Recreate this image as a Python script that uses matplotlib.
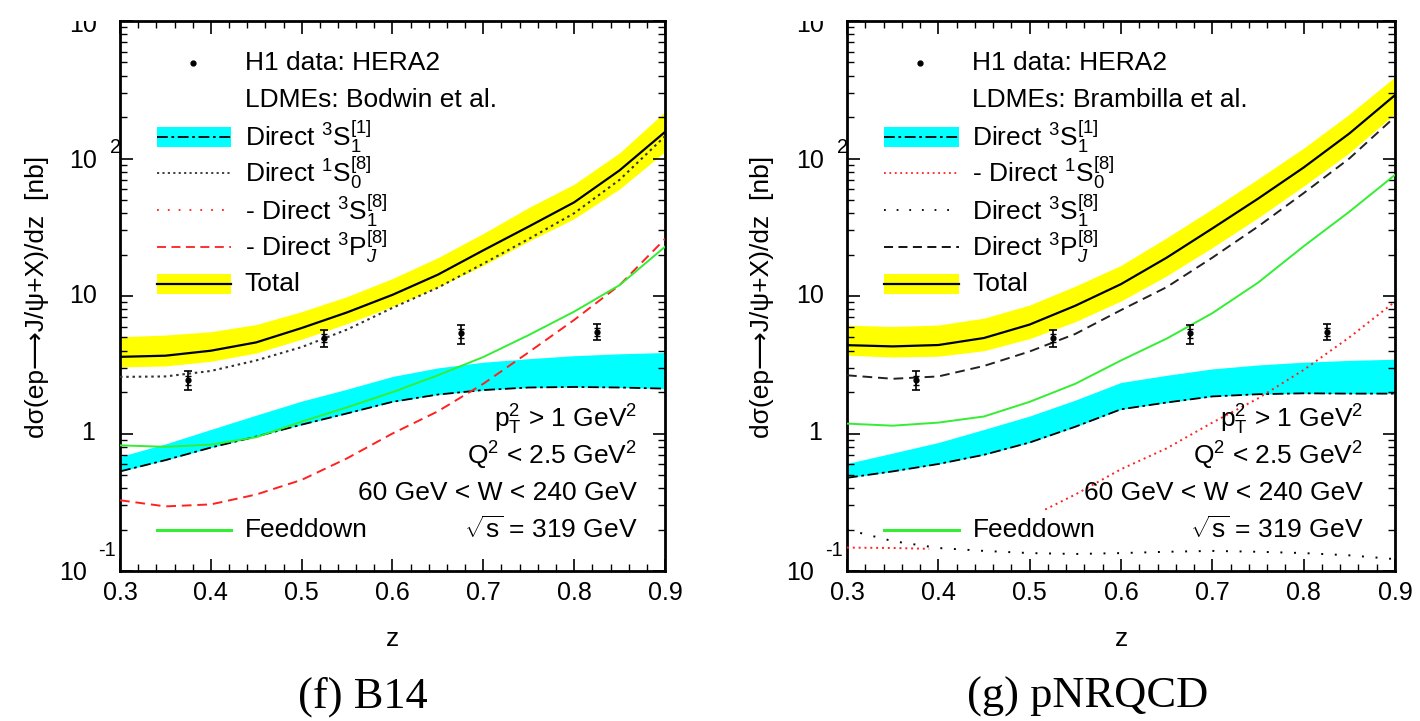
import numpy as np
import matplotlib
matplotlib.use("Agg")
import matplotlib.pyplot as plt
from matplotlib.patches import Rectangle
from matplotlib.transforms import Bbox, TransformedBbox
from matplotlib.ticker import LogLocator, MultipleLocator, NullFormatter

plt.rcParams['font.family'] = ['Liberation Sans', 'DejaVu Sans']
plt.rcParams['mathtext.fontset'] = 'custom'
plt.rcParams['mathtext.rm'] = 'Liberation Sans'
plt.rcParams['mathtext.it'] = 'Liberation Sans:italic'
plt.rcParams['mathtext.bf'] = 'Liberation Sans:bold'

# ---------------- data ----------------
z = [0.30, 0.35, 0.40, 0.45, 0.50, 0.55, 0.60, 0.65, 0.70, 0.75, 0.80, 0.85, 0.90]

# H1 data (same in both panels)
data_z = [0.375, 0.525, 0.675, 0.825]
data_y = [2.44, 4.97, 5.34, 5.50]
data_up = [2.83, 5.66, 6.13, 6.30]
data_dn = [2.06, 4.27, 4.51, 4.77]
stat_up = [2.62, 5.30, 5.72, 5.88]
stat_dn = [2.26, 4.64, 4.96, 5.12]

# (f) B14 -- LDMEs: Bodwin et al.
b14_total = [3.61, 3.68, 4.0, 4.6, 5.85, 7.6, 10.2, 14.3, 21.5, 32, 48, 82, 156]
b14_total_up = [5.05, 5.2, 5.5, 6.2, 7.7, 9.9, 13.4, 19, 28.5, 44, 65, 110, 219]
b14_total_dn = [3.05, 3.1, 3.35, 3.85, 4.85, 6.3, 8.4, 11.6, 16.7, 25, 36.5, 60, 112]
b14_cs = [0.53, 0.64, 0.79, 0.95, 1.16, 1.4, 1.7, 1.92, 2.07, 2.16, 2.18, 2.16, 2.12]
b14_cs_up = [0.68, 0.84, 1.07, 1.36, 1.72, 2.1, 2.6, 3.0, 3.3, 3.5, 3.68, 3.8, 3.88]
b14_1s0 = [2.58, 2.6, 2.85, 3.4, 4.25, 5.7, 8.2, 11.5, 17.2, 26, 40, 70, 145]
b14_3pj = [0.327, 0.295, 0.305, 0.36, 0.46, 0.66, 1.0, 1.45, 2.3, 3.9, 6.7, 12, 26]
b14_feed = [0.82, 0.80, 0.83, 0.94, 1.22, 1.55, 2.0, 2.65, 3.6, 5.2, 7.7, 12.0, 22.8]

# (g) pNRQCD -- LDMEs: Brambilla et al.
pn_total = [4.39, 4.3, 4.4, 4.95, 6.2, 8.5, 12.2, 19, 31, 51, 86, 152, 289]
pn_total_up = [6.14, 6.0, 6.15, 6.9, 8.6, 11.8, 16.7, 26.5, 43, 71, 119, 210, 393]
pn_total_dn = [3.71, 3.6, 3.65, 4.0, 4.9, 6.5, 9.2, 14, 22.5, 37, 63, 110, 212]
pn_cs = [0.476, 0.53, 0.6, 0.7, 0.86, 1.12, 1.5, 1.68, 1.86, 1.93, 1.96, 1.95, 1.95]
pn_cs_up = [0.605, 0.72, 0.86, 1.07, 1.34, 1.75, 2.35, 2.65, 2.95, 3.15, 3.3, 3.4, 3.47]
pn_3pj = [2.65, 2.5, 2.6, 3.1, 3.95, 5.3, 7.9, 11.6, 19, 32, 56, 100, 201]
pn_3s1 = [0.2, 0.165, 0.147, 0.14, 0.135, 0.133, 0.135, 0.138, 0.14, 0.138, 0.135, 0.13, 0.122]
pn_feed = [1.18, 1.14, 1.2, 1.33, 1.7, 2.3, 3.4, 4.9, 7.5, 12.5, 23, 41, 76]
pn_1s0_lo_z = [0.30, 0.35, 0.39]
pn_1s0_lo = [0.148, 0.147, 0.145]
pn_1s0_hi_z = [0.517, 0.55, 0.60, 0.65, 0.70, 0.75, 0.80, 0.85, 0.90]
pn_1s0_hi = [0.28, 0.36, 0.55, 0.78, 1.2, 1.8, 2.9, 5.0, 9.1]

x_ticks = [0.3, 0.4, 0.5, 0.6, 0.7, 0.8, 0.9]
x_ticklabels = ['0.3', '0.4', '0.5', '0.6', '0.7', '0.8', '0.9']

cuts = [r'p$_{\mathrm{T}}^{2}$ > 1 GeV$^{2}$', r'Q$^{2}$ < 2.5 GeV$^{2}$',
        '60 GeV < W < 240 GeV', r'$\sqrt{\mathrm{s}}$ = 319 GeV']

W, H = 1420, 721
fig = plt.figure(figsize=(W / 100, H / 100), dpi=100)

YELLOW = '#ffff00'
CYAN = '#00ffff'
GREEN = '#33ee33'
RED = '#ff2020'
FS = 19
TFS = 18


def px_axes(x0, x1, y0, y1):
    return fig.add_axes([x0 / W, 1 - y1 / H, (x1 - x0) / W, (y1 - y0) / H])


def setup(ax, width_px):
    ax.set_yscale('log')
    ax.set_xlim(0.3, 0.9)
    ax.set_ylim(0.1, 1000)
    for s in ax.spines.values():
        s.set_linewidth(2.0)
    ax.set_xticks(x_ticks)
    ax.set_xticklabels(x_ticklabels, fontsize=TFS)
    ax.xaxis.set_minor_locator(MultipleLocator(0.02))
    ax.yaxis.set_major_locator(LogLocator(base=10, numticks=10))
    ax.yaxis.set_minor_locator(LogLocator(base=10, subs=np.arange(2, 10), numticks=20))
    ax.yaxis.set_major_formatter(NullFormatter())
    ax.yaxis.set_minor_formatter(NullFormatter())
    ax.tick_params(which='both', direction='in', top=True, right=True)
    ax.tick_params(which='major', length=9, width=1.2, pad=7)
    ax.tick_params(which='minor', length=5, width=1.0)
    # y tick labels (ROOT style), positions given as pixel offsets from the frame
    tr = ax.get_yaxis_transform()
    ofs = lambda px: -px / width_px
    ax.text(ofs(25), 1, '1', transform=tr, ha='right', va='center', fontsize=TFS)
    ax.text(ofs(23), 10, '10', transform=tr, ha='right', va='center', fontsize=TFS)
    ax.text(ofs(23), 100 * 0.96, '10', transform=tr, ha='right', va='center', fontsize=TFS)
    ax.text(ofs(10), 100 * 1.2, '2', transform=tr, ha='left', va='center', fontsize=TFS * 0.8)
    ax.text(ofs(33), 0.1 * 0.97, '10', transform=tr, ha='right', va='center', fontsize=TFS)
    ax.text(ofs(22), 0.1 * 1.42, '-1', transform=tr, ha='left', va='center', fontsize=TFS * 0.8)
    t = ax.text(ofs(23), 1000 * 0.94, '10', transform=tr, ha='right', va='center', fontsize=TFS)
    t.set_clip_box(TransformedBbox(Bbox([[0, 0], [1, 1 - 21 / H]]), fig.transFigure))
    t.set_clip_on(True)
    ax.set_xlabel('z', fontsize=FS, labelpad=16)


def legend_rows(ax, entries, cut_x):
    rows = [0.924, 0.856, 0.789, 0.724, 0.656, 0.589, 0.522]
    xs0, xs1, xt, xm = 0.068, 0.204, 0.229, 0.134
    T = ax.transAxes
    for (kind, label), yy in zip(entries, rows):
        if kind == 'data':
            ax.plot([xm], [yy], 'o', color='black', ms=3.5, transform=T, clip_on=False)
        elif kind == 'cyan':
            ax.add_patch(Rectangle((xs0, yy - 0.0175), xs1 - xs0, 0.035, transform=T,
                                   facecolor=CYAN, edgecolor='none'))
            ax.plot([xs0, xs1], [yy, yy], color='black', lw=1.3, ls=(0, (6, 2, 1.5, 2)), transform=T)
        elif kind == 'yellow':
            ax.add_patch(Rectangle((xs0, yy - 0.0175), xs1 - xs0, 0.035, transform=T,
                                   facecolor=YELLOW, edgecolor='none'))
            ax.plot([xs0, xs1], [yy, yy], color='black', lw=1.6, transform=T)
        elif kind is not None:
            color, ls = kind
            ax.plot([xs0, xs1], [yy, yy], color=color, lw=1.3, ls=ls, transform=T)
        ax.text(xt, yy, label, transform=T, ha='left', va='center', fontsize=FS)
    yy = 0.075
    ax.plot([xs0, xs1], [yy, yy], color=GREEN, lw=2.2, transform=T)
    ax.text(xt, yy, 'Feeddown', transform=T, ha='left', va='center', fontsize=FS)
    for txt, yy in zip(cuts, [0.275, 0.209, 0.142, 0.075]):
        ax.text(cut_x, yy, txt, transform=T, ha='right', va='center', fontsize=FS)


def draw_data(ax):
    zz = np.array(data_z)
    yy = np.array(data_y)
    ax.errorbar(zz, yy, yerr=[yy - np.array(data_dn), np.array(data_up) - yy], fmt='o',
                color='black', ms=3.5, capsize=3, elinewidth=1.2, capthick=1.2, zorder=6)
    ax.errorbar(zz, yy, yerr=[yy - np.array(stat_dn), np.array(stat_up) - yy], fmt='none',
                color='black', capsize=2.5, elinewidth=1.2, capthick=1.0, zorder=6)


DOT_BLACK = (0, (1.2, 1.8))
DOT_RED = (0, (1, 5))
DASH = (0, (5, 3))
DASHDOT = (0, (6, 2, 1.5, 2))

# ---------------- left panel ----------------
axL = px_axes(120, 665, 21, 571)
setup(axL, 545)
axL.fill_between(z, b14_total_dn, b14_total_up, color=YELLOW, lw=0, zorder=1)
axL.fill_between(z, b14_cs, b14_cs_up, color=CYAN, lw=0, zorder=1)
axL.plot(z, b14_cs, color='black', lw=1.3, ls=DASHDOT, zorder=3)
axL.plot(z, b14_1s0, color='#333333', lw=1.5, ls=DOT_BLACK, zorder=3)
axL.plot(z, b14_3pj, color=RED, lw=1.4, ls=DASH, zorder=3)
axL.plot(z, b14_feed, color=GREEN, lw=1.4, zorder=3)
axL.plot(z, b14_total, color='black', lw=1.6, zorder=4)
draw_data(axL)
legend_rows(axL, [
    ('data', 'H1 data: HERA2'),
    (None, 'LDMEs: Bodwin et al.'),
    ('cyan', r'Direct $^{3}\mathrm{S}_{1}^{[1]}$'),
    (('#333333', DOT_BLACK), r'Direct $^{1}\mathrm{S}_{0}^{[8]}$'),
    ((RED, DOT_RED), r'- Direct $^{3}\mathrm{S}_{1}^{[8]}$'),
    ((RED, DASH), r'- Direct $^{3}\mathrm{P}_{J}^{[8]}$'),
    ('yellow', 'Total'),
], 0.949)

# ---------------- right panel ----------------
axR = px_axes(847, 1395, 21, 571)
setup(axR, 548)
axR.fill_between(z, pn_total_dn, pn_total_up, color=YELLOW, lw=0, zorder=1)
axR.fill_between(z, pn_cs, pn_cs_up, color=CYAN, lw=0, zorder=1)
axR.plot(z, pn_cs, color='black', lw=1.3, ls=DASHDOT, zorder=3)
axR.plot(z, pn_3s1, color='black', lw=1.4, ls=(0, (1, 6)), zorder=3)
axR.plot(pn_1s0_lo_z, pn_1s0_lo, color=RED, lw=1.4, ls=(0, (1, 2)), zorder=3)
axR.plot(pn_1s0_hi_z, pn_1s0_hi, color=RED, lw=1.4, ls=(0, (1, 2)), zorder=3)
axR.plot(z, pn_3pj, color='#222222', lw=1.4, ls=DASH, zorder=3)
axR.plot(z, pn_feed, color=GREEN, lw=1.4, zorder=3)
axR.plot(z, pn_total, color='black', lw=1.6, zorder=4)
draw_data(axR)
legend_rows(axR, [
    ('data', 'H1 data: HERA2'),
    (None, 'LDMEs: Brambilla et al.'),
    ('cyan', r'Direct $^{3}\mathrm{S}_{1}^{[1]}$'),
    ((RED, (0, (1, 2))), r'- Direct $^{1}\mathrm{S}_{0}^{[8]}$'),
    (('black', (0, (1, 6))), r'Direct $^{3}\mathrm{S}_{1}^{[8]}$'),
    (('black', DASH), r'Direct $^{3}\mathrm{P}_{J}^{[8]}$'),
    ('yellow', 'Total'),
], 0.942)

ylab = 'd\u03c3(ep\u27f6J/\u03c8+X)/dz  [nb]'
fig.text(37 / W, 1 - 297 / H, ylab, rotation=90, ha='center', va='center', fontsize=FS)
fig.text(762 / W, 1 - 297 / H, ylab, rotation=90, ha='center', va='center', fontsize=FS)

fig.text(363 / W, 1 - 697 / H, '(f) B14', ha='center', va='center', fontsize=32,
         family=['Liberation Serif', 'DejaVu Serif'])
fig.text(1088 / W, 1 - 697 / H, '(g) pNRQCD', ha='center', va='center', fontsize=32,
         family=['Liberation Serif', 'DejaVu Serif'])

fig.savefig('out.png', dpi=100)
